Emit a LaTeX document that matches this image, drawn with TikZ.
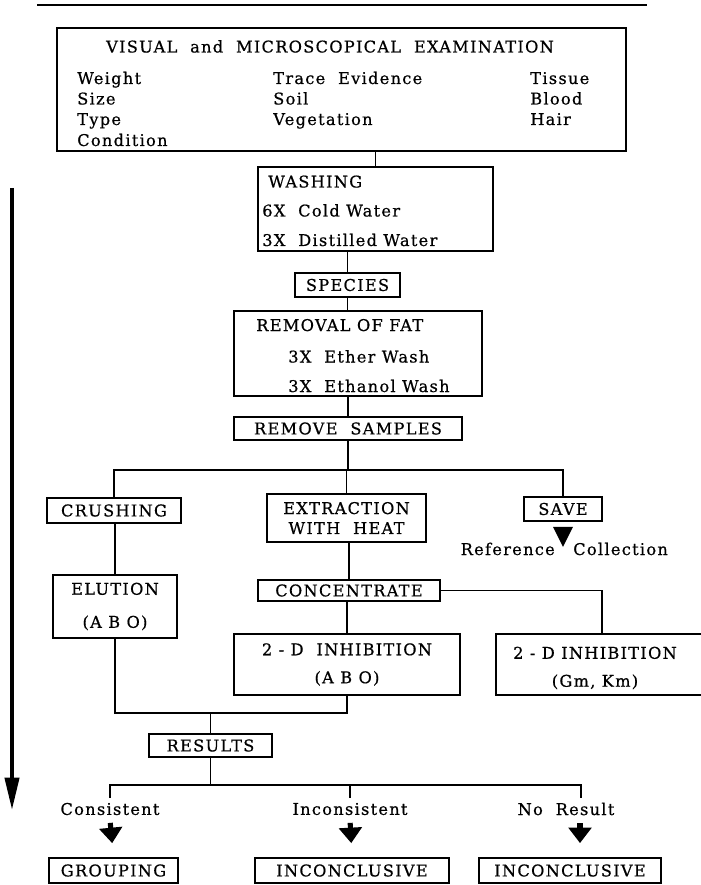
\documentclass[tikz,border=0pt]{standalone}
\usepackage{fontspec}
\setmainfont{DejaVu Serif}[LetterSpace=8, FakeBold=0.6]
\usetikzlibrary{arrows.meta, positioning}
\newcommand\pxl{0.025cm}

\begin{document}
\begin{tikzpicture}[x=\pxl, y=-\pxl,
    every node/.style={font=\fontsize{11.5}{14.2}\selectfont},
    box/.style={rectangle, draw, line width=1.2pt, inner sep=0pt, align=center},
    word/.style={inner sep=0pt, anchor=base west},
    link/.style={line width=1.2pt},
    flow/.style={line width=2.8pt, -{Triangle[length=23pt, width=10pt]}},
    fat/.style={line width=3.6pt, -{Triangle[length=11pt, width=16pt]}, shorten <=2pt, shorten >=10pt}
]
    \useasboundingbox (0,0) rectangle (701,885);
    \draw[line width=1.4pt] (37,5) -- (647,5);

    \node[box, minimum width=569*\pxl, minimum height=123*\pxl] (exam) at (341.5,89.5) {};
    \node[inner sep=0pt, anchor=base] (examtitle) at (330,52.5) {VISUAL~~and~~MICROSCOPICAL~~EXAMINATION};
    \node[word] (weight) at (77,84) {Weight};
    \node[word] (size) at (77,104.5) {Size};
    \node[word] (type) at (77,125) {Type};
    \node[word] (cond) at (77,146) {Condition};
    \node[word] (trace) at (273,84) {Trace~~Evidence};
    \node[word] (soil) at (273,104.5) {Soil};
    \node[word] (veg) at (273,125) {Vegetation};
    \node[word] (tissue) at (530,84) {Tissue};
    \node[word] (blood) at (530,104.5) {Blood};
    \node[word] (hair) at (530,125) {Hair};

    \node[box, minimum width=235*\pxl, minimum height=84*\pxl] (wash) at (375.5,209) {};
    \node[word] (washhead) at (268,187.5) {WASHING};
    \node[word] (cold) at (262,216.5) {6X~~Cold Water};
    \node[word] (dist) at (262,246) {3X~~Distilled Water};

    \node[box, minimum width=105*\pxl, minimum height=24*\pxl] (spec) at (347.5,285) {SPECIES};

    \node[box, minimum width=248*\pxl, minimum height=85*\pxl] (fat) at (358,353.5) {};
    \node[word] (fathead) at (256,331) {REMOVAL OF FAT};
    \node[word] (ether) at (288,362.5) {3X~~Ether Wash};
    \node[word] (ethanol) at (288,392) {3X~~Ethanol Wash};

    \node[box, minimum width=228*\pxl, minimum height=23*\pxl] (rs) at (348,428.5) {REMOVE~~SAMPLES};

    \node[box, minimum width=134*\pxl, minimum height=25*\pxl] (crush) at (114,510.5) {CRUSHING};
    \node[box, minimum width=159*\pxl, minimum height=48*\pxl] (ext) at (346.5,518) {EXTRACTION\\WITH~~HEAT};
    \node[box, minimum width=78*\pxl, minimum height=24*\pxl] (save) at (563,509) {SAVE};
    \node[inner sep=0pt, anchor=base east] (refword) at (555,555) {Reference};
    \node[inner sep=0pt, anchor=base west] (collword) at (573,555) {Collection};

    \node[box, minimum width=124*\pxl, minimum height=63*\pxl] (elu) at (115,606.5) {ELUTION\\[9.3pt](A B O)};
    \node[box, minimum width=182*\pxl, minimum height=21*\pxl] (conc) at (349,590.5) {CONCENTRATE};
    \node[box, minimum width=226*\pxl, minimum height=61*\pxl] (inh1) at (347,664.5) {2 - D~~INHIBITION\\[5.7pt](A B O)};
    \node[box, minimum width=212*\pxl, minimum height=61*\pxl] (inh2) at (602,664.5) {};
    \node[inner sep=0pt, align=center] (inh2text) at (595,668) {2 - D INHIBITION\\[5.7pt](Gm, Km)};

    \node[box, minimum width=123*\pxl, minimum height=23*\pxl] (res) at (210.5,745.5) {RESULTS};

    \node (cons) at (110,809) {Consistent};
    \node (incons) at (350,809) {Inconsistent};
    \node (nores) at (566,809) {No~~Result};

    \node[box, minimum width=129*\pxl, minimum height=25*\pxl] (grp) at (113.5,870.5) {GROUPING};
    \node[box, minimum width=194*\pxl, minimum height=25*\pxl] (inc1) at (352,870.5) {INCONCLUSIVE};
    \node[box, minimum width=182*\pxl, minimum height=25*\pxl] (inc2) at (570,870.5) {INCONCLUSIVE};

    \coordinate (split) at (352,470);
    \coordinate (join) at (0,713);
    \coordinate (fork) at (0,785);
    \coordinate (flowtop) at (12,188);
    \coordinate (flowend) at (12,810);

    \draw[link] (wash.north) -- (wash.north |- exam.south);
    \draw[link] (spec.north) -- (spec.north |- wash.south);
    \draw[link] (spec.south) -- (spec.south |- fat.north);
    \draw[link] (rs.north) -- (rs.north |- fat.south);
    \draw[link] (rs.south) -- (rs.south |- split);
    \draw[link] (crush.north) |- (save.north |- split) -- (save.north);
    \draw[link] (ext.north) -- (ext.north |- split);
    \fill (save.south) ++(-10,5) -- ++(20,0) -- ++(-10,20) -- cycle;
    \draw[link] (elu.north) -- (elu.north |- crush.south);
    \draw[link] (conc.north) -- (conc.north |- ext.south);
    \draw[link] (inh1.north) -- (inh1.north |- conc.south);
    \draw[link] (conc.east) -| (inh2.north);
    \draw[link] (elu.south) |- (inh1.south |- join) -- (inh1.south);
    \draw[link] (res.north) -- (res.north |- join);
    \draw[link] (res.south) -- (res.south |- fork);
    \draw[link] (cons.north) |- ([xshift=15*\pxl]nores.north |- fork) -- ([xshift=15*\pxl]nores.north);
    \draw[link] (incons.north) -- (incons.north |- fork);

    \draw[fat] (cons.south) -- (grp.north);
    \draw[fat] (incons.south) -- (inc1.north);
    \draw[fat] ([xshift=10*\pxl]inc2.north |- nores.south) -- ([xshift=10*\pxl]inc2.north);

    \draw[flow] (flowtop) -- (flowend);
\end{tikzpicture}
\end{document}
